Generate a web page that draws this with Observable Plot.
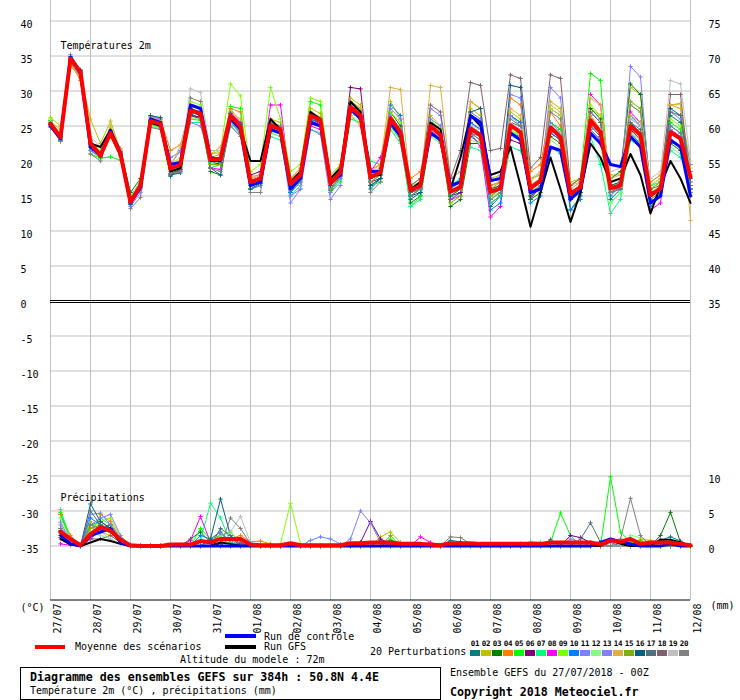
<!DOCTYPE html>
<html><head><meta charset="utf-8">
<script src="https://cdn.jsdelivr.net/npm/d3@7"></script>
<script src="https://cdn.jsdelivr.net/npm/@observablehq/plot@0.6"></script>
<style>
body{margin:0;background:#fff;}
#wrap{position:relative;width:740px;height:700px;font-family:"DejaVu Sans Mono",monospace;font-size:10px;color:#000;overflow:hidden;}
#chart{position:absolute;left:0;top:0;}
.t{position:absolute;white-space:pre;line-height:12px;font-size:10px;}
.b{position:absolute;white-space:pre;line-height:14px;font-size:11.6px;font-weight:bold;}
.bar{position:absolute;}
.num{position:absolute;font-size:7.5px;font-weight:bold;line-height:10px;width:10px;text-align:center;letter-spacing:-0.2px;}
.sw{position:absolute;width:10px;height:6px;top:650px;}
#box{position:absolute;left:20px;top:667px;width:419px;height:31px;border:1px solid #000;}
</style></head>
<body><div id="wrap"><div id="chart"></div></div>
<script>
// ---------- axis / category data ----------
const dates = ["27/07","28/07","29/07","30/07","31/07","01/08","02/08","03/08","04/08","05/08","06/08","07/08","08/08","09/08","10/08","11/08","12/08"];
const hours = d3.range(0, 385, 6);      // 6-hourly steps, 0..384h
const dayHours = d3.range(0, 385, 24);
const leftTicks = [40,35,30,25,20,15,10,5,0,-5,-10,-15,-20,-25,-30,-35];
const gridLevels = [40,35,30,25,20,15,10,5,-5,-10,-15,-20,-25,-30,-35];
const rightTickY = [40,35,30,25,20,15,10,5,0,-25,-30,-35];
const rightTickLabel = ["75","70","65","60","55","50","45","40","35","10","5","0"];
const memberNames = ["01","02","03","04","05","06","07","08","09","10","11","12","13","14","15","16","17","18","19","20"];
const memberColors = ["#008080","#c0c000","#008000","#ff8000","#00ff00","#800080","#00ff80","#ff00ff","#80ff00","#0080ff","#8080ff","#80ff80","#8080ff","#e0b040","#80b000","#006080","#507080","#806070","#c0c0c0","#808080"];

// ---------- temperature 2m (°C), 65 steps ----------
const tMean = [25.3,23.4,34.6,32.7, 22.5,20.8,24.0,21.0,
14.1,16.5,25.7,25.3, 18.9,19.5,27.2,26.8,
20.2,20.3,26.5,24.9, 17.0,17.5,25.1,24.5,
16.7,18.0,26.5,25.8, 16.8,18.4,27.7,26.5,
17.7,18.4,26.1,24.1, 15.8,16.5,25.0,23.7,
15.6,16.3,24.6,23.7, 15.6,16.1,25.1,24.1,
16.1,17.2,24.8,23.4, 15.3,16.3,25.8,24.1,
16.1,16.5,25.0,23.7, 15.1,16.1,24.1,23.2,
17.7];
const tCtrl = [25.0,23.2,34.8,32.5, 22.0,20.8,24.3,21.2,
14.0,16.2,26.0,25.5, 19.5,19.8,28.0,27.5,
20.5,20.2,26.0,24.5, 16.5,17.0,24.5,24.0,
16.0,17.5,25.5,25.0, 17.0,18.0,27.5,26.0,
18.5,18.5,25.5,23.5, 16.0,16.5,24.0,23.0,
16.5,17.0,26.5,25.5, 17.2,17.5,24.0,23.0,
15.5,16.0,22.0,21.5, 14.5,16.0,24.0,22.5,
19.5,19.2,23.5,22.0, 14.0,15.0,23.0,22.0,
15.0];
const tGfs = [25.5,23.5,34.5,32.5, 22.5,22.0,24.5,21.0,
14.5,16.5,25.5,25.0, 18.5,19.0,27.5,26.5,
20.0,20.0,26.0,24.5, 20.0,20.0,26.0,24.5,
17.0,18.5,27.0,26.0, 17.5,19.0,28.5,27.0,
18.0,18.0,26.0,24.0, 16.0,17.0,25.5,24.5,
16.0,20.5,26.5,25.0, 18.0,18.5,22.0,16.5,
10.6,15.5,20.5,16.0, 11.3,15.5,22.5,20.5,
17.0,17.5,21.0,18.0, 12.5,16.5,20.0,17.5,
14.0];
const t01 = [25.0,22.9,34.3,32.4, 21.5,20.5,24.2,21.3,
13.8,16.8,25.5,25.0, 17.8,19.0,26.8,26.0,
19.5,19.8,26.8,25.3, 16.5,17.0,24.8,24.0,
15.5,17.5,25.8,25.0, 15.8,17.8,27.0,26.0,
16.0,17.5,24.5,22.5, 14.5,15.5,25.5,24.5,
14.5,15.5,23.5,22.5, 13.5,15.0,24.0,23.5,
14.5,16.5,25.5,24.5, 13.0,15.0,24.5,23.0,
14.5,16.0,24.0,22.5, 14.0,15.5,26.5,25.5,
15.5];
const t02 = [26.2,25.0,33.5,32.0, 26.0,22.5,25.7,21.5,
14.6,17.0,26.2,25.8, 19.5,20.0,27.8,27.5,
21.0,21.2,27.5,25.5, 17.8,18.0,26.0,25.5,
17.5,18.5,27.5,26.8, 18.0,19.5,29.0,28.0,
18.8,19.5,28.5,26.0, 16.5,17.5,26.5,25.0,
16.0,17.5,27.5,26.5, 17.5,18.0,27.0,26.0,
17.0,18.5,28.5,27.5, 17.0,17.5,27.5,26.5,
18.0,18.0,30.5,29.5, 16.5,17.5,28.0,27.5,
19.5];
const t03 = [25.8,23.6,34.8,32.9, 22.0,21.0,23.8,21.5,
15.5,17.5,25.3,25.0, 18.2,18.8,26.5,26.0,
18.5,18.0,25.5,24.0, 16.0,16.5,24.5,24.0,
16.5,17.5,26.0,25.5, 17.5,18.5,28.5,27.5,
17.5,18.0,27.0,25.0, 14.0,15.0,24.0,23.0,
13.5,14.5,22.5,22.5, 16.5,17.0,26.5,25.5,
14.5,15.5,23.5,22.5, 14.5,16.5,27.5,26.0,
17.5,18.5,31.0,29.5, 16.0,17.0,22.5,21.5,
16.0];
const t04 = [25.5,23.8,34.0,31.5, 22.3,21.0,24.5,21.8,
14.3,16.0,26.5,26.0, 21.5,22.3,27.5,27.0,
20.5,21.0,27.5,27.0, 17.5,18.0,25.5,25.0,
17.5,19.0,26.8,26.0, 16.5,18.0,26.5,25.0,
18.0,19.0,26.5,24.5, 17.5,18.5,25.5,23.5,
16.5,17.0,28.5,27.5, 16.0,17.0,29.0,28.0,
18.5,19.5,27.0,25.0, 16.0,17.0,26.5,24.5,
16.5,17.0,24.5,23.5, 17.0,18.0,28.0,28.2,
15.0];
const t05 = [25.8,22.8,34.5,32.5, 21.0,20.4,20.6,20.1,
15.0,17.0,25.2,24.8, 18.0,18.5,26.0,25.8,
19.0,19.5,27.8,27.5, 16.0,16.5,24.0,23.5,
17.0,18.5,28.5,28.0, 15.5,17.0,27.0,26.0,
16.5,17.0,25.0,23.0, 13.5,15.0,23.5,22.5,
15.0,16.0,25.0,24.0, 14.5,15.5,24.0,24.0,
15.0,16.5,25.5,24.5, 16.5,17.5,32.5,31.5,
14.0,15.5,23.0,22.0, 16.0,17.0,25.5,24.5,
18.0];
const t06 = [25.2,23.2,34.7,32.8, 22.8,21.2,24.0,21.5,
14.2,16.6,25.8,25.5, 19.0,19.4,26.5,26.3,
20.0,19.5,26.0,25.0, 18.0,18.5,25.5,25.0,
17.0,18.5,26.0,25.3, 17.5,19.0,30.5,30.3,
17.0,17.5,25.0,23.5, 15.0,16.0,24.0,23.0,
15.0,15.5,25.5,24.5, 14.0,15.0,23.0,22.5,
15.0,16.0,24.0,23.0, 14.5,15.5,25.5,24.5,
15.5,16.0,24.5,23.0, 14.5,15.5,23.0,22.0,
16.5];
const t07 = [25.6,23.0,34.2,32.6, 22.2,21.5,24.2,21.0,
14.8,17.2,25.0,24.6, 18.5,19.2,25.5,25.5,
19.8,20.5,25.0,23.8, 16.8,17.5,23.5,23.0,
15.0,16.5,24.5,24.0, 16.0,17.5,26.0,25.5,
20.0,19.5,25.0,23.0, 13.5,14.5,24.0,23.5,
16.5,17.5,22.0,21.5, 14.0,15.0,22.0,21.5,
17.5,18.0,22.0,21.0, 15.0,16.0,23.5,19.5,
12.5,14.5,23.5,22.5, 16.5,17.0,21.5,20.5,
18.5];
const t08 = [25.0,23.3,34.5,32.3, 22.4,20.6,24.1,21.2,
14.0,16.4,25.9,25.6, 18.0,18.7,27.0,26.5,
19.0,18.8,27.0,25.5, 17.5,18.0,28.0,28.0,
16.5,17.5,25.0,24.5, 16.0,18.0,27.5,26.0,
18.5,20.5,26.0,24.0, 15.5,16.0,24.5,23.0,
14.5,15.0,24.0,22.0, 12.0,13.5,25.0,24.5,
16.0,17.0,27.5,26.5, 14.5,16.0,29.5,28.0,
16.0,16.5,27.0,25.5, 13.0,14.0,24.5,23.5,
16.0];
const t09 = [26.0,23.7,34.8,32.9, 22.6,21.5,24.8,21.5,
14.5,16.5,25.7,25.3, 19.5,20.5,28.5,28.0,
21.0,21.5,31.0,29.3, 18.5,19.5,30.5,26.0,
18.5,19.5,29.0,28.5, 17.5,19.5,28.5,27.5,
18.0,19.0,27.0,25.5, 16.5,17.0,26.0,24.5,
15.5,16.0,26.5,25.0, 15.0,15.5,24.5,23.5,
16.5,17.5,27.5,26.5, 15.0,16.5,28.0,26.5,
16.5,17.0,28.0,27.0, 15.5,16.5,26.0,25.0,
19.0];
const t10 = [25.4,23.5,34.4,32.6, 22.6,20.9,23.9,20.9,
13.8,16.2,25.5,25.2, 18.8,19.5,27.0,26.5,
20.5,20.5,26.5,25.0, 16.5,17.0,25.0,24.5,
15.5,17.0,26.0,25.5, 17.0,18.5,28.0,26.5,
16.5,17.5,28.0,26.5, 15.0,16.0,25.0,24.0,
16.0,17.0,25.5,24.5, 13.0,14.0,26.5,25.5,
14.0,15.0,24.0,23.0, 13.0,14.5,27.0,25.5,
15.0,16.5,26.5,25.0, 13.5,15.0,25.0,24.0,
16.0];
const t11 = [25.1,23.1,35.2,33.0, 21.5,20.5,23.8,21.0,
13.5,15.5,25.8,25.5, 20.5,21.3,25.5,25.0,
20.5,20.0,25.5,24.0, 16.0,16.5,24.5,24.0,
14.0,16.0,26.0,25.0, 15.5,17.5,27.0,26.0,
17.0,18.0,26.5,24.5, 16.0,16.5,27.5,26.5,
17.5,18.5,27.0,26.0, 15.5,16.0,26.5,25.0,
16.5,17.0,30.5,29.0, 15.5,16.0,26.0,24.0,
16.0,17.0,33.5,32.0, 15.0,16.0,27.0,26.0,
19.5];
const t12 = [25.3,23.0,34.4,32.4, 22.0,20.6,23.5,20.8,
14.3,16.3,25.0,24.8, 18.5,19.0,26.2,26.0,
19.5,20.0,25.5,24.5, 17.2,17.8,24.0,23.5,
16.5,17.0,25.5,25.0, 17.0,18.0,26.5,25.5,
17.5,18.0,24.5,22.5, 15.0,16.0,23.5,22.5,
15.0,16.0,23.0,22.5, 16.0,16.5,23.5,23.0,
15.5,16.5,23.0,22.0, 15.5,16.5,23.5,22.5,
14.0,15.5,24.0,23.0, 14.5,15.5,22.0,21.0,
17.0];
const t13 = [25.0,22.9,34.9,33.0, 22.9,20.8,24.4,21.3,
14.0,16.2,26.3,26.0, 19.5,21.5,27.5,26.8,
20.0,20.0,26.0,24.5, 16.5,17.0,25.5,24.5,
15.0,16.0,24.5,23.8, 14.5,16.5,27.0,26.5,
17.5,18.5,27.5,26.0, 15.5,16.0,26.0,25.0,
15.5,16.5,25.0,24.0, 15.0,16.0,29.5,29.0,
15.5,16.5,25.5,24.0, 15.5,16.5,24.5,23.0,
17.0,17.5,26.0,25.0, 15.0,16.0,24.5,23.5,
18.5];
const t14 = [25.6,24.5,33.8,31.8, 22.8,21.3,25.0,21.6,
14.5,16.8,26.0,25.5, 19.2,22.2,28.0,27.3,
21.0,22.0,27.0,26.0, 17.5,18.0,25.5,25.0,
17.5,18.5,27.0,26.3, 17.5,19.0,28.5,27.5,
18.5,19.5,30.5,30.2, 16.0,17.0,30.8,30.5,
17.5,18.5,28.5,27.5, 16.5,17.0,27.5,26.5,
17.5,18.0,28.0,27.0, 16.5,17.0,29.0,28.0,
17.5,18.0,26.5,25.5, 16.0,17.0,28.0,28.2,
11.5];
const t15 = [25.5,23.3,34.6,32.8, 23.0,21.0,23.5,20.6,
14.2,16.6,25.6,25.2, 18.5,19.0,27.0,26.5,
19.5,19.5,26.5,25.0, 17.0,17.5,25.0,24.5,
16.0,17.5,26.5,26.0, 16.0,18.0,27.5,26.5,
17.0,18.0,26.0,24.0, 15.5,16.0,25.0,24.0,
14.0,15.0,24.0,23.0, 15.0,16.0,24.0,23.0,
15.5,16.5,24.5,23.5, 15.0,16.0,26.0,24.5,
15.5,16.5,28.5,27.5, 14.5,15.5,24.0,23.0,
15.5];
const t16 = [25.2,23.0,34.9,33.0, 22.0,20.7,24.2,21.0,
13.9,16.3,26.5,26.2, 18.0,18.3,27.5,27.0,
19.0,18.0,26.8,25.2, 16.0,16.8,24.5,24.0,
16.0,17.5,26.5,25.5, 16.5,18.0,27.0,26.0,
16.5,17.5,25.5,23.5, 15.0,15.5,24.0,23.0,
15.0,16.0,27.0,27.5, 16.0,16.5,30.8,30.5,
16.0,17.0,25.0,24.0, 14.5,15.5,25.0,23.5,
16.5,17.0,25.5,24.0, 15.5,16.0,27.5,26.5,
17.5];
const t17 = [25.3,23.3,34.5,32.6, 22.5,20.5,24.0,21.0,
14.0,16.4,25.6,25.2, 19.0,19.6,27.0,26.6,
20.2,20.3,26.0,24.8, 17.0,17.5,25.0,24.5,
16.5,17.5,26.5,25.5, 17.0,18.5,27.5,26.5,
17.5,18.0,25.0,23.5, 15.5,16.0,24.5,23.5,
15.5,16.0,24.0,23.5, 15.5,16.0,25.5,25.0,
16.0,17.0,24.5,23.5, 15.5,16.0,25.5,24.0,
16.0,16.5,25.5,24.5, 15.0,16.0,27.0,26.5,
17.0];
const t18 = [25.4,23.5,34.7,32.8, 22.4,20.8,23.9,20.9,
14.0,16.5,25.7,25.3, 18.8,19.4,27.2,26.8,
20.0,20.0,26.3,24.8, 17.0,17.5,25.3,24.8,
16.5,17.8,26.3,25.5, 17.0,18.5,27.8,26.5,
17.5,18.5,25.5,23.5, 16.5,17.5,28.0,27.0,
17.5,21.5,31.2,30.8, 21.5,21.8,32.3,31.8,
19.0,20.5,32.3,31.8, 16.5,17.5,27.0,25.5,
15.5,16.5,25.0,24.0, 16.0,16.5,29.5,29.5,
16.5];
const t19 = [25.6,23.6,34.3,32.2, 23.5,22.0,24.5,21.5,
14.8,17.2,25.4,25.0, 19.5,20.0,30.3,29.8,
21.5,21.5,26.5,25.0, 17.5,18.0,25.5,25.0,
17.0,18.5,26.5,25.5, 17.5,18.5,27.0,26.0,
18.5,19.0,26.0,24.5, 16.0,16.5,24.5,23.5,
16.5,17.0,25.0,24.5, 17.0,18.0,25.5,24.5,
17.5,18.5,25.0,24.0, 16.0,17.0,25.5,24.5,
18.5,19.0,26.0,25.0, 17.5,18.5,31.5,31.0,
20.0];
const t20 = [24.8,22.8,34.1,32.0, 21.0,20.0,24.3,21.3,
13.2,14.8,24.8,24.5, 18.2,18.5,29.0,28.5,
19.0,18.5,25.0,23.5, 15.5,15.5,25.5,25.0,
16.0,17.0,27.0,26.0, 17.0,18.0,28.0,27.0,
15.5,17.0,26.0,24.5, 15.0,16.0,25.5,24.0,
15.5,16.0,24.0,23.0, 14.5,15.5,26.0,25.0,
16.5,17.5,27.0,26.0, 15.5,16.5,25.0,24.0,
15.5,16.0,28.0,27.0, 14.0,15.0,25.0,24.0,
15.0];

// ---------- 6-hourly precipitation (mm), 65 steps ----------
const pMean = [null,2.0,1.0,0.1, 1.7,2.7,2.2,0.9,
0.1,0,0,0, 0.2,0.2,0.2,0.7,
0.5,1.0,1.0,1.0, 0.2,0.1,0.1,0.1,
0.4,0.1,0.1,0.1, 0.1,0.1,0.4,0.4,
0.5,0.5,0.5,0.3, 0.3,0.3,0.2,0.1,
0.4,0.4,0.4,0.3, 0.3,0.3,0.3,0.3,
0.3,0.3,0.5,0.5, 0.5,0.5,0.5,0.2,
0.8,0.6,1.0,0.3, 0.5,0.5,0.5,0.3,
0.1];
const pCtrl = [null,1.5,0.3,0, 1.5,2.0,2.5,0.5,
0,0,0,0, 0,0,0,0,
0,0,0,0, 0,0,0,0,
0,0,0,0, 0,0,0,0,
0,0,0,0, 0,0,0,0,
0,0,0,0, 0,0,0,0,
0,0,0,0, 0,0,0,0.5,
1.0,0.6,0.3,0, 0,0,0.3,0,
0];
const pGfs = [null,1.0,0.2,0, 0.5,1.0,0.7,0.3,
0,0,0,0, 0,0,0,0,
0,0.5,0.3,0, 0,0,0,0,
0,0,0,0, 0,0,0,0,
0,0,0,0, 0,0,0,0,
0,0,0,0, 0,0,0,0,
0,0,0,0, 0,0,0,0,
0.8,0.3,0,0, 0,0.9,0.9,0.5,
0];
const p01 = [null,2.0,0.5,0, 3.0,3.5,2.5,1.0,
0,0,0,0, 0,0,0,0,
1.0,2.0,0.5,0, 0,0,0,0,
0,0,0,0, 0,0,0,0,
0,0,0.8,0.5, 0,0,0,0,
0.8,0.6,0,0, 0,0,0,0,
0,0,0.9,0, 0,0,0,0,
0,0,0,0, 0,0.8,1.3,0.7,
0];
const p02 = [null,2.5,1.0,0, 3.5,2.0,1.5,0.5,
0,0,0,0, 0,0,0,0,
0,0,0,0, 0,0,0,0,
0,0,0,0, 0,0,0,0,
0,1.3,2.0,0.5, 0,0,0,0,
0,0,0,0, 0,0,0,0,
0,0,0,0, 0,0,0,0,
0,0,0,1.0, 0.8,0,0,0,
0];
const p03 = [null,4.5,1.0,0, 2.0,2.5,3.0,1.0,
0,0,0,0, 0,0,1.0,2.0,
0.5,0,1.2,0, 0,0,0,0,
0,0,0,0, 0,0,0,0,
0,0.8,0,0, 0,0,0,0,
0,0,0,0, 0,0,0,0,
0,0,0,0, 0,0,0,0,
0,0,0,0, 0,1.5,4.8,0.5,
0];
const p04 = [null,4.5,1.5,0, 1.5,4.5,3.5,1.0,
0,0,0,0, 0,0,0,0,
0,0.5,1.0,1.5, 0.6,0.7,0.3,0,
0,0,0,0, 0,0,0,0,
0,0,0,0, 0,0,0,0,
0,0,0,0, 0,0,0,0,
0,0,0,0, 0,0,0,0,
0,0.5,0,0, 0,0,0,0,
0];
const p05 = [null,4.8,0.8,0, 2.5,3.0,2.0,0.8,
0,0,0,0, 0,0,0,2.5,
1.0,1.5,2.0,0.5, 0,0,0,0,
0,0,0,0, 0,0,0,0,
0,0,1.0,0, 0,0,0,0,
0,0,0,0, 0,0,0,0,
0,0,0.5,4.7, 1.5,0,0,0,
9.9,2.0,0.5,0, 0,0,0,0,
0];
const p06 = [null,2.0,0.5,0, 1.0,2.5,3.0,1.0,
0,0,0,0, 0,0,0,0,
0,0,0,0, 0,0,0,0,
0,0,0,0, 0,0,0,0.5,
3.5,1.0,0.3,0, 0,0,0,0,
0,0,0,0, 0,0,0,0,
0,0,0,0, 1.5,1.2,0.5,0,
0,0,0,0, 0,0,0,0,
0];
const p07 = [null,5.2,1.0,0, 2.5,4.0,3.0,1.0,
0,0,0,0, 0,0,0,0.8,
6.1,4.0,0.5,0, 0,0,0,0,
0,0,0,0, 0,0,0,0,
0,0,0,0, 0,0,0,0,
0,0,0,0, 0,0,0,0,
0.6,0.5,0,0, 0,0,0,0,
0,0,0,0, 0,0,0,0,
0];
const p08 = [null,0.3,0.1,0, 1.0,2.5,2.0,0.5,
0,0,0,0, 0,0,0.8,4.2,
0.5,0,0,0, 0,0,0,0,
0,0,0,0, 0,0,0,0,
0,0,0,0, 0,1.3,0.5,0,
0,0,0,0, 0,0,0,0,
0,0,0,0, 0,0,0,0,
0,0,0,0, 0,0,0,0,
0];
const p09 = [null,4.0,1.0,0, 2.5,3.5,4.0,1.2,
0,0,0,0, 0,0,0,0,
0.5,1.5,0,0, 0,0,0,0.3,
6.1,0.3,0,0, 0,0,0,0,
0,0,0,0, 0,0,0,0,
0,0,0,0, 0,0,0,0,
0,0,0,0, 0,0,0,0,
0,0,0,0, 0,0,0,0,
0];
const p10 = [null,2.5,0.6,0, 4.0,3.0,2.5,0.8,
0,0,0,0, 0,0,0,1.5,
1.0,0,0,0, 0,0,0,0,
0,0,0,0, 0,0,0,0,
0,0,0,0, 0,0,0,0,
0,0,0,0, 0,0,0,0,
0,0,0,0, 0,0,0,0,
0.5,0,0,0, 0,0,0,0,
0];
const p11 = [null,3.4,0.8,0, 4.5,4.7,3.0,1.0,
0,0,0,0, 0,0,0,0,
0,0,0,0, 0,0,0,0,
0,0,0.8,1.3, 1.0,0.3,0,0,
0,0,0,0, 0,0,0,0,
0,0,0,0, 0,0,0,0,
0,0,0,0, 1.0,0.5,0,0,
0,0,0,0, 0,0,0,0,
0];
const p12 = [null,1.5,0.3,0, 2.0,1.5,1.0,0.3,
0,0,0,0, 0,0,0,0,
0,0,0,0, 0,0,0,0,
0,0,0,0, 0,0,0,0,
0,0,0,0, 0,0,0,0,
0,0,0,0, 0,0,0,0.4,
0,0,0,0, 0,0,0,0,
0,0,1.5,1.2, 0,0,0,0,
0];
const p13 = [null,3.0,0.6,0, 3.0,4.0,4.5,1.5,
0,0,0,0, 0,0,0,0,
0,1.8,0.8,0, 0,0,0,0,
0,0,0,0, 0,0,1.0,5.0,
3.3,0.5,0,0, 0,0,0,0,
0,0,0,0, 0,0,0,0,
0,0,0,0, 0,0,0,0,
0,0,0,0, 0,1.0,0,0,
0];
const p14 = [null,1.0,0.2,0, 1.5,2.5,2.0,0.5,
0,0,0,0, 0,0,0,0,
0,0,0,0.5, 0,0,0,0,
0,0,0,0, 0,0,0,0,
0,0,0,0, 0,0,0,0,
0,0,0,0, 0,0,0,0,
0,0,0,0, 0,0,0,0,
0,0,0,0, 0.4,0,0,0,
0];
const p15 = [null,1.8,0.4,0, 2.5,3.0,2.5,0.8,
0,0,0,0, 0,0,0,0,
0,0,0,0, 0,0,0,0,
0,0,0,0, 0,0,0,0,
0,0,1.5,0, 0,0,0,0,
0,0,0,0, 0,0,0,0,
0,0,0,0, 0,0,0,0,
0,0,0,0.8, 0,0,0,0,
0];
const p16 = [null,2.2,0.5,0, 6.0,3.5,2.5,1.0,
0,0,0,0, 0,0,0,0,
1.0,6.7,1.5,0.3, 0,0,0,0,
0,0,0,0, 0,0,0,0,
0,0,0,0, 0,0,0,0,
0,0,0,0, 0,0,0,0,
0,0,0,0, 0,0,0,0,
0,0,0,0, 0,0,0,0,
0];
const p17 = [null,1.2,0.3,0, 5.0,3.0,2.0,0.7,
0,0,0,0, 0,0,0,0,
0,2.5,1.5,0, 0,0,0,0,
0,0,0,0, 0,0,0,0,
0,0,0,0, 0,0,0,0,
0,0,0,0, 0,0,0,0,
0,0,0,0, 0,1.0,3.3,0.5,
0,0,0,0, 0,0,0,0,
0];
const p18 = [null,1.5,0.4,0, 1.0,1.0,1.5,0.5,
0,0,0,0, 0,0,0,0,
0,0,0,0.5, 0,0,0,0,
0,0,0,0, 0,0,0,0,
0,0,0,0, 0,0,0,0,
0,0,0,0, 0,0,0,0,
0,0,0,0, 0,0,0,0,
0,0,0,0, 0,0,0,0,
0];
const p19 = [null,2.0,0.5,0, 1.5,2.0,1.0,0.3,
0,0,0,0, 0,0,0,0,
0,0,2.0,4.2, 0.5,0,0,0.3,
0,0,0,0, 0,0,0,0,
0,0,0,0, 0,0,0,0,
0,0,0,0, 0,0,0,0,
0,0,0,0, 0,0,0,0,
0,0,0,0, 0,0,0,0,
0];
const p20 = [null,2.5,0.6,0, 3.0,2.5,2.0,0.6,
0,0,0,0, 0,0,0,0,
0,0,4.0,2.5, 0.3,0,0,0,
0,0,0,0, 0,0,0,0,
0,0,0,0, 0,0,0,0,
1.3,1.2,0.3,0, 0,0,0,0,
0,0,0,0, 0,0,0,0,
0,1.0,6.8,1.5, 0,0,0,0,
0];

const tMembers = [t01,t02,t03,t04,t05,t06,t07,t08,t09,t10,t11,t12,t13,t14,t15,t16,t17,t18,t19,t20];
const pMembers = [p01,p02,p03,p04,p05,p06,p07,p08,p09,p10,p11,p12,p13,p14,p15,p16,p17,p18,p19,p20];
const PRECIP_ZERO = -35; // precipitation axis: 0 mm drawn at -35 on the left scale

function rowsOf(name, color, vals, offset) {
  const out = [];
  vals.forEach((v, i) => { if (v != null) out.push({s: name, color, h: hours[i], v: v + offset}); });
  return out;
}
const memberRows = [];
memberNames.forEach((n, k) => {
  memberRows.push(...rowsOf("T" + n, memberColors[k], tMembers[k], 0));
  memberRows.push(...rowsOf("P" + n, memberColors[k], pMembers[k], PRECIP_ZERO));
});
const gfsRows = [...rowsOf("Tg", "#000000", tGfs, 0), ...rowsOf("Pg", "#000000", pGfs, PRECIP_ZERO)];
const ctrlRows = [...rowsOf("Tc", "#0000ff", tCtrl, 0), ...rowsOf("Pc", "#0000ff", pCtrl, PRECIP_ZERO)];
const meanRows = [...rowsOf("Tm", "#ff0000", tMean, 0), ...rowsOf("Pm", "#ff0000", pMean, PRECIP_ZERO)];

const chart = Plot.plot({
  width: 740, height: 635,
  marginLeft: 50, marginRight: 50, marginTop: 0, marginBottom: 35,
  x: {domain: [0, 384], axis: null},
  y: {domain: [-42.79, 42.93], axis: null},
  color: {type: "identity"},
  style: {fontFamily: "DejaVu Sans Mono", fontSize: "10px", background: "white", overflow: "visible"},
  marks: [
    Plot.ruleY(gridLevels, {stroke: "#c0c0c0", strokeWidth: 1}),
    Plot.ruleX(dayHours, {stroke: "#c0c0c0", strokeWidth: 1}),
    Plot.ruleY([0], {stroke: "#000", strokeWidth: 1, dy: -0.5}),
    Plot.ruleY([0], {stroke: "#000", strokeWidth: 1, dy: 1.5}),
    Plot.ruleY([-42.79], {stroke: "#000", strokeWidth: 1, dy: -0.5}),
    Plot.line(memberRows, {x: "h", y: "v", z: "s", stroke: "color", strokeWidth: 1}),
    Plot.dot(memberRows, {x: "h", y: "v", stroke: "color", symbol: "plus", r: 1.5, strokeWidth: 1}),
    Plot.line(gfsRows, {x: "h", y: "v", z: "s", stroke: "color", strokeWidth: 2}),
    Plot.line(ctrlRows, {x: "h", y: "v", z: "s", stroke: "color", strokeWidth: 3}),
    Plot.line(meanRows, {x: "h", y: "v", z: "s", stroke: "color", strokeWidth: 4}),
    Plot.text(leftTicks, {y: d => d, text: d => String(d), frameAnchor: "left", textAnchor: "start", lineAnchor: "middle", dx: -30, dy: 3.5, fill: "#000"}),
    Plot.text(rightTickY, {y: d => d, text: (d, i) => rightTickLabel[i], frameAnchor: "right", textAnchor: "start", lineAnchor: "middle", dx: 18, dy: 3.5, fill: "#000"}),
    Plot.text(dates, {x: (d, i) => dayHours[i], text: d => d, frameAnchor: "bottom", rotate: -90, textAnchor: "end", lineAnchor: "middle", dx: 7, dy: 3, fill: "#000"}),
    Plot.text(["Températures 2m"], {frameAnchor: "top-left", textAnchor: "start", lineAnchor: "middle", dx: 10, dy: 45.5, fill: "#000"}),
    Plot.text(["Précipitations"], {frameAnchor: "top-left", textAnchor: "start", lineAnchor: "middle", dx: 10, dy: 497, fill: "#000"}),
    Plot.text(["(°C)"], {frameAnchor: "bottom-left", textAnchor: "start", lineAnchor: "middle", dx: -30, dy: 7, fill: "#000"}),
    Plot.text(["(mm)"], {frameAnchor: "bottom-right", textAnchor: "start", lineAnchor: "middle", dx: 20, dy: 5, fill: "#000"})
  ]
});
document.getElementById("chart").appendChild(chart);

// ---------- legend below the SVG ----------
const wrap = document.getElementById("wrap");
function add(cls, text, left, top, extra) {
  const el = document.createElement("div");
  el.className = cls;
  if (text != null) el.textContent = text;
  el.style.left = left + "px"; el.style.top = top + "px";
  if (extra) Object.assign(el.style, extra);
  wrap.appendChild(el);
  return el;
}
add("bar", null, 225, 634, {width: "31px", height: "4px", background: "#0000ff"});
add("t", "Run de contrôle", 264, 631);
add("bar", null, 35, 645, {width: "30px", height: "4px", background: "#ff0000"});
add("t", "Moyenne des scénarios", 75, 641);
add("bar", null, 225, 645, {width: "31px", height: "4px", background: "#000000"});
add("t", "Run GFS", 264, 641);
add("t", "Altitude du modele : 72m", 180, 654);
add("t", "20 Perturbations", 370, 645.5);
memberNames.forEach((n, k) => {
  add("num", n, 470 + 11 * k, 638.5);
  add("sw", null, 470 + 11 * k, 650, {background: memberColors[k]});
});
const box = document.createElement("div"); box.id = "box"; wrap.appendChild(box);
add("b", "Diagramme des ensembles GEFS sur 384h : 50.8N 4.4E", 30, 670);
add("t", "Température 2m (°C) , précipitations (mm)", 30, 685);
add("t", "Ensemble GEFS du 27/07/2018 - 00Z", 450, 666.5);
add("b", "Copyright 2018 Meteociel.fr", 450, 685);
</script>
</body></html>
